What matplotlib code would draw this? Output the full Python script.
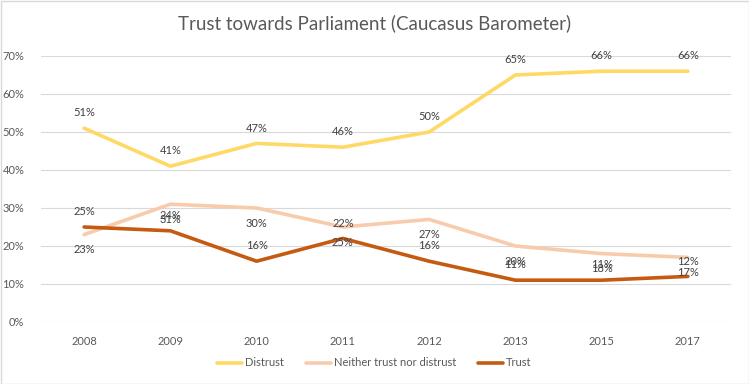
import matplotlib
matplotlib.use("Agg")
import matplotlib.pyplot as plt
from matplotlib.patches import Rectangle

years = ["2008", "2009", "2010", "2011", "2012", "2013", "2015", "2017"]
distrust = [51, 41, 47, 46, 50, 65, 66, 66]
neither = [23, 31, 30, 25, 27, 20, 18, 17]
trust = [25, 24, 16, 22, 16, 11, 11, 12]

plt.rcParams['font.family'] = ['Lato', 'DejaVu Sans']

text_col = '#595959'
fig = plt.figure(figsize=(7.49, 3.84), dpi=100)
ax = fig.add_axes([41 / 749, 1 - 322 / 384, 690 / 749, 266 / 384])

x = list(range(len(years)))
series = [
    ("Distrust", distrust, '#FFD966', 11),
    ("Neither trust nor distrust", neither, '#F8CBAD', -11),
    ("Trust", trust, '#C55A11', 11),
]

for name, vals, col, off in series:
    ys = [v / 100 for v in vals]
    ax.plot(x, ys, color=col, lw=2.6, label=name, solid_capstyle='round')
    for xi, yi, v in zip(x, ys, vals):
        ax.annotate(f"{v}%", (xi, yi), xytext=(0, off), textcoords='offset points',
                    ha='center', va='center', fontsize=8, color='#404040')

ax.set_xlim(-0.5, len(years) - 0.5)
ax.set_ylim(0, 0.7)
ax.set_yticks([i / 10 for i in range(8)])
ax.set_yticklabels([f"{i * 10}%" for i in range(8)])
ax.set_xticks(x)
ax.set_xticklabels(years)
ax.tick_params(length=0, colors=text_col, labelsize=8, pad=10)
ax.tick_params(axis='y', pad=12)
ax.grid(axis='y', color='#D9D9D9', lw=0.8)
ax.set_axisbelow(True)
for s in ax.spines.values():
    s.set_visible(False)

fig.suptitle("Trust towards Parliament (Caucasus Barometer)", y=0.962,
             fontsize=13.5, color=text_col)

fig.legend(loc='center', bbox_to_anchor=(0.5, 1 - 363 / 384), ncol=3, frameon=False,
           fontsize=8, labelcolor=text_col, handlelength=2.2, columnspacing=2.0,
           handletextpad=0.3)

fig.patches.append(Rectangle((0.5 / 749, 0.5 / 384), 1 - 1 / 749, 1 - 1 / 384,
                             transform=fig.transFigure, fill=False,
                             edgecolor='#D9D9D9', lw=1))

fig.savefig("out.png", dpi=100)
